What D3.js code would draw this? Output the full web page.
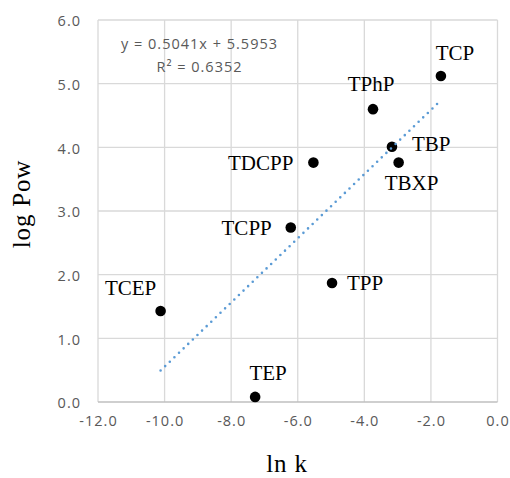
<!DOCTYPE html>
<html>
<head>
<meta charset="utf-8">
<script src="https://cdn.jsdelivr.net/npm/d3@7"></script>
<style>
  body { margin: 0; background: #fff; }
  .tick text { font-family: "Open Sans", sans-serif; font-size: 14.5px; fill: #595959; letter-spacing: 1px; }
  .lbl { font-family: "Liberation Serif", "DejaVu Serif", serif; font-size: 21px; fill: #000; }
  .title { font-family: "Liberation Serif", "DejaVu Serif", serif; font-size: 25px; fill: #000; letter-spacing: 0.8px; }
  .eq { font-family: "Open Sans", sans-serif; font-size: 14.5px; fill: #595959; letter-spacing: 1px; }
</style>
</head>
<body>
<svg id="chart" width="510" height="478"></svg>
<script>
// compounds and values
var names = ["TCP", "TPhP", "TBP", "TBXP", "TDCPP", "TCPP", "TPP", "TEP", "TCEP"];
var lnK   = [-1.70, -3.74, -3.17, -2.97, -5.53, -6.21, -4.97, -7.28, -10.12];
var logP  = [5.12, 4.60, 4.01, 3.76, 3.76, 2.74, 1.87, 0.08, 1.43];

var xTicks = [-12, -10, -8, -6, -4, -2, 0];
var yTicks = [0, 1, 2, 3, 4, 5, 6];

var slope = 0.5041, intercept = 5.5953, r2 = "0.6352";

// where each label sits relative to its point
var labelPos = {
    TCP:   { anchor: "middle", dx: 14,  dy: -16 },
    TPhP:  { anchor: "middle", dx: -2,  dy: -18 },
    TBP:   { anchor: "start",  dx: 20,  dy: 4 },
    TBXP:  { anchor: "middle", dx: 13,  dy: 27 },
    TDCPP: { anchor: "end",    dx: -20, dy: 7 },
    TCPP:  { anchor: "end",    dx: -19, dy: 7 },
    TPP:   { anchor: "start",  dx: 15,  dy: 7 },
    TEP:   { anchor: "middle", dx: 13,  dy: -17 },
    TCEP:  { anchor: "middle", dx: -30, dy: -16 }
};

var svg = d3.select("#chart");
var plotL = 98, plotR = 497.5, plotT = 20, plotB = 402;

var x = d3.scaleLinear().domain([-12, 0]).range([plotL, plotR]);
var y = d3.scaleLinear().domain([0, 6]).range([plotB, plotT]);

// gridlines
svg.append("g").selectAll("line")
    .data(xTicks).enter().append("line")
    .attr("x1", d => x(d)).attr("x2", d => x(d))
    .attr("y1", plotT).attr("y2", plotB)
    .attr("stroke", "#d9d9d9").attr("stroke-width", 1.3);
svg.append("g").selectAll("line")
    .data(yTicks).enter().append("line")
    .attr("x1", plotL).attr("x2", plotR)
    .attr("y1", d => y(d)).attr("y2", d => y(d))
    .attr("stroke", d => d === 0 ? "#bfbfbf" : "#d9d9d9").attr("stroke-width", 1.3);

// axes (labels only)
var fmt = d => d3.format(".1f")(d).replace("−", "-");
var xAxis = svg.append("g")
    .attr("transform", `translate(0,${plotB})`)
    .call(d3.axisBottom(x).tickValues(xTicks).tickFormat(fmt).tickSize(0).tickPadding(14));
var yAxis = svg.append("g")
    .attr("transform", `translate(${plotL},0)`)
    .call(d3.axisLeft(y).tickValues(yTicks).tickFormat(fmt).tickSize(0).tickPadding(17));
xAxis.select(".domain").remove();
yAxis.select(".domain").remove();
yAxis.selectAll("text").attr("dy", "0.4em");

// points
var pts = names.map((n, i) => ({ name: n, x: lnK[i], y: logP[i] }));
svg.append("g").selectAll("circle")
    .data(pts).enter().append("circle")
    .attr("cx", d => x(d.x)).attr("cy", d => y(d.y))
    .attr("r", 5.3).attr("fill", "#000");

// linear trendline, drawn over the markers
var xMin = d3.min(lnK), xMax = d3.max(lnK);
svg.append("line")
    .attr("x1", x(xMin)).attr("y1", y(slope * xMin + intercept))
    .attr("x2", x(xMax)).attr("y2", y(slope * xMax + intercept))
    .attr("stroke", "#5b9bd5").attr("stroke-width", 2.6)
    .attr("stroke-linecap", "round")
    .attr("stroke-dasharray", "0 6.4");

// point labels
svg.append("g").selectAll("text")
    .data(pts).enter().append("text")
    .attr("class", "lbl")
    .attr("x", d => x(d.x) + labelPos[d.name].dx)
    .attr("y", d => y(d.y) + labelPos[d.name].dy)
    .attr("text-anchor", d => labelPos[d.name].anchor)
    .text(d => d.name);

// equation
svg.append("text").attr("class", "eq")
    .attr("x", 199.5).attr("y", 48.5).attr("text-anchor", "middle")
    .text(`y = ${slope}x + ${intercept}`);
svg.append("text").attr("class", "eq")
    .attr("x", 199.5).attr("y", 72).attr("text-anchor", "middle")
    .text(`R² = ${r2}`);

// axis titles
svg.append("text").attr("class", "title")
    .attr("x", 287).attr("y", 472).attr("text-anchor", "middle")
    .text("ln k");
svg.append("text").attr("class", "title")
    .attr("transform", "translate(30,204) rotate(-90)")
    .attr("text-anchor", "middle")
    .text("log Pow");
</script>
</body>
</html>
